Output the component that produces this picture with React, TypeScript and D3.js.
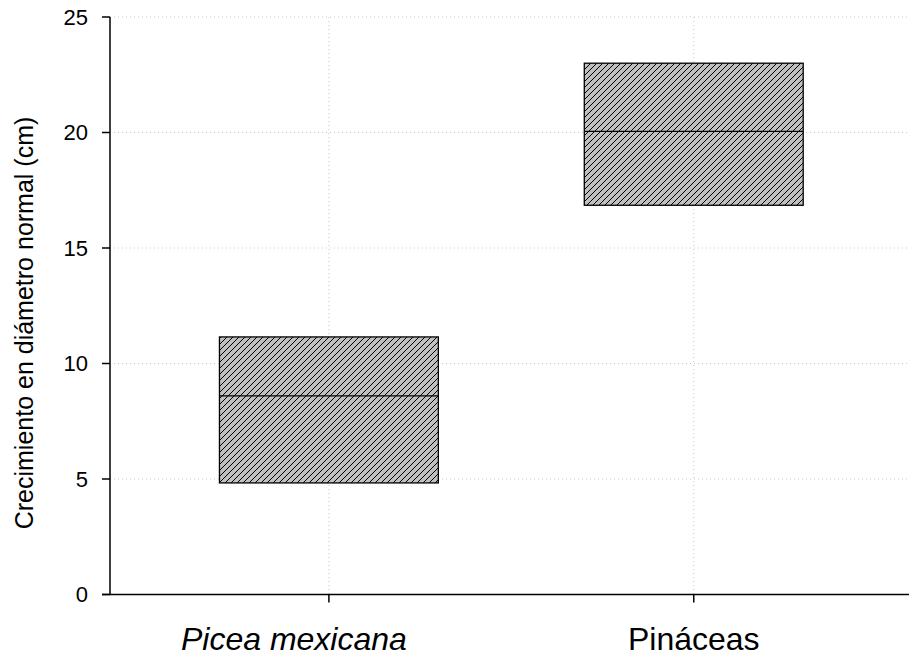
import React from "react";
import * as d3 from "d3";

const categories = ["Picea mexicana", "Pináceas"];
const italicCats = [true, false];
const q1 = [4.83, 16.85];
const medians = [8.6, 20.05];
const q3 = [11.15, 23.0];
const yTicks = [0, 5, 10, 15, 20, 25];

const W = 909;
const H = 664;
const left = 110;
const right = 909;
const top = 17;
const bottom = 594.5;

export default function App() {
  const x = d3.scaleLinear().domain([0.4, 2.59]).range([left, right]);
  const y = d3.scaleLinear().domain([0, 25]).range([bottom, top]);
  const boxW = x(1.6) - x(1.0);
  const font = "Liberation Sans, Arial, sans-serif";
  const labelOffsets = [-35, 0];
  return (
    <svg width={W} height={H} style={{ position: "absolute", left: 0, top: 0 }}>
      <defs>
        <pattern id="hatch" patternUnits="userSpaceOnUse" width={6} height={6}>
          <rect width={6} height={6} fill="#c0c0c0" />
          <path d="M0,6 L6,0 M-1,1 L1,-1 M5,7 L7,5" stroke="#000" strokeWidth={1} />
        </pattern>
      </defs>
      <rect width={W} height={H} fill="#fff" />
      {yTicks.filter((t) => t > 0).map((t) => (
        <line key={"gy" + t} x1={left} x2={right} y1={y(t)} y2={y(t)} stroke="#c8c8c8" strokeWidth={1} strokeDasharray="1,3" />
      ))}
      {categories.map((c, i) => (
        <line key={"gx" + i} x1={x(i + 1)} x2={x(i + 1)} y1={top} y2={bottom} stroke="#c8c8c8" strokeWidth={1} strokeDasharray="1,3" />
      ))}
      {categories.map((c, i) => (
        <g key={"b" + i}>
          <rect x={x(i + 1) - boxW / 2} y={y(q3[i])} width={boxW} height={y(q1[i]) - y(q3[i])} fill="url(#hatch)" stroke="#000" strokeWidth={1.3} />
          <line x1={x(i + 1) - boxW / 2} x2={x(i + 1) + boxW / 2} y1={y(medians[i])} y2={y(medians[i])} stroke="#000" strokeWidth={1.3} />
        </g>
      ))}
      <line x1={left} x2={left} y1={top} y2={bottom} stroke="#000" strokeWidth={1.5} />
      <line x1={left - 8} x2={right} y1={bottom} y2={bottom} stroke="#000" strokeWidth={1.5} />
      {yTicks.map((t) => (
        <g key={"yt" + t}>
          <line x1={left - 8} x2={left} y1={y(t)} y2={y(t)} stroke="#000" strokeWidth={1.5} />
          <text x={left - 22} y={y(t)} dy="0.35em" textAnchor="end" fontFamily={font} fontSize={22}>{t}</text>
        </g>
      ))}
      {categories.map((c, i) => (
        <g key={"xt" + i}>
          <line x1={x(i + 1)} x2={x(i + 1)} y1={bottom} y2={bottom + 8} stroke="#000" strokeWidth={1.5} />
          <text x={x(i + 1) + labelOffsets[i]} y={650} textAnchor="middle" fontFamily={font} fontSize={32} fontStyle={italicCats[i] ? "italic" : "normal"}>{c}</text>
        </g>
      ))}
      <text transform={`translate(33,323) rotate(-90)`} textAnchor="middle" fontFamily={font} fontSize={25}>
        Crecimiento en diámetro normal (cm)
      </text>
    </svg>
  );
}
